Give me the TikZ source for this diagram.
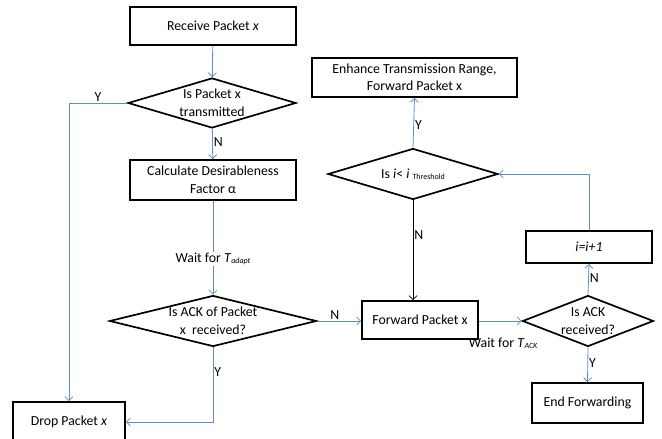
\documentclass[tikz,border=0pt]{standalone}
\usepackage{fontspec}
\setmainfont{Carlito}
\usepackage{tikz}
\usetikzlibrary{arrows.meta,shapes.geometric}
\definecolor{azul}{RGB}{98,140,200}

\begin{document}
\begin{tikzpicture}[x=1pt,y=-1pt,
  every node/.style={font=\fontsize{13.8}{17.5}\selectfont},
  caja/.style={rectangle, draw, line width=1.7pt, align=center, inner sep=2pt},
  rombo/.style={diamond, draw, line width=1.7pt, align=center, inner sep=-4pt, aspect=3.3},
  flecha/.style={draw=azul, line width=0.8pt, -{Straight Barb[length=4pt,width=8pt]}},
  flechanegra/.style={draw=black, line width=0.8pt, -{Straight Barb[length=4pt,width=8pt]}},
  etiq/.style={inner sep=1pt}]
\useasboundingbox (0,0) rectangle (662,439);
\node[caja, minimum width=166pt, minimum height=38pt] (recibe) at (213,26) {Receive Packet \textit{x}};
\node[rombo, minimum width=168pt, minimum height=50pt] (transm) at (212,103) {Is Packet x\\transmitted};
\node[caja, minimum width=166pt, minimum height=40pt] (calc) at (213,180) {Calculate Desirableness\\Factor α};
\node[rombo, aspect=4, minimum width=207pt, minimum height=51pt] (ackpk) at (213,321) {Is ACK of Packet\\x\ \ received?};
\node[caja, minimum width=112pt, minimum height=40pt] (drop) at (69,422) {Drop Packet \textit{x}};
\node[caja, minimum width=116pt, minimum height=38pt] (fwd) at (420,320) {Forward Packet x};
\node[rombo, aspect=2.6, minimum width=131pt, minimum height=51pt] (ack) at (588,321) {Is ACK\\received?};
\node[caja, minimum width=111pt, minimum height=40pt] (fin) at (587.5,403) {End Forwarding};
\node[caja, minimum width=126pt, minimum height=32pt] (incr) at (589,247) {\textit{i=i+1}};
\node[rombo, minimum width=170pt, minimum height=51pt] (umbral) at (413,174) {Is \textit{i}< \textit{i} \raisebox{-1pt}{\footnotesize Threshold}};
\node[caja, minimum width=205pt, minimum height=39pt] (amplia) at (414.5,77.5) {Enhance Transmission Range,\\Forward Packet x};

\draw[flecha] (recibe) -- (transm);
\draw[flecha] (transm) -- node[etiq, right, pos=0.45]{N} (calc);
\draw[flecha] (transm.west) -- node[etiq, above, pos=0.5]{Y} (drop.north |- transm.west) -- (drop.north);
\draw[flecha] (calc) -- node[fill=white, inner sep=1pt, pos=0.62]{Wait for \textit{T}\raisebox{-1pt}{\footnotesize\textit{adapt}}} (ackpk);
\draw[flecha] (ackpk.south) -- node[etiq, right, pos=0.33]{Y} (ackpk.south |- drop.east) -- (drop.east);
\draw[flecha] (ackpk.east) -- node[etiq, above, pos=0.4]{N} (fwd.west |- ackpk.east);
\draw[flecha] (fwd.east |- ack.west) -- node[below=16pt, etiq, xshift=3pt]{Wait for \textit{T}\raisebox{-1pt}{\footnotesize\textit{ACK}}} (ack.west);
\draw[flecha] (ack.south) -- node[etiq, right, pos=0.45]{Y} (fin.north);
\draw[flecha] (ack.north) -- node[etiq, right, pos=0.55]{N} (incr.south);
\draw[flecha] (incr.north) |- (umbral.east);
\draw[flechanegra] (umbral.south) -- node[etiq, right, pos=0.35]{N} (umbral.south |- fwd.north);
\draw[flecha] (umbral.north) -- node[etiq, right, pos=0.45]{Y} (amplia.south);
\end{tikzpicture}
\end{document}
